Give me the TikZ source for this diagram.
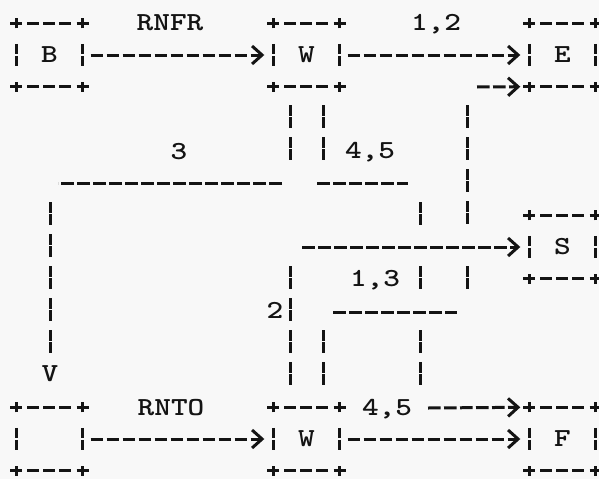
\documentclass[tikz,border=0pt]{standalone}
\usepackage{graphicx}
\usetikzlibrary{arrows.meta}
\newcommand\lab{\ttfamily\bfseries\fontsize{26}{26}\selectfont}
\newcommand\tx[1]{\scalebox{1.22}[1]{\lab #1}}
\definecolor{paper}{RGB}{248,248,248}
\definecolor{inkc}{RGB}{20,20,20}
\begin{document}
\begin{tikzpicture}[x=1pt,y=-1pt,
  ink/.style={draw=inkc,line width=3pt},
  hdash/.style={ink,dash pattern=on 12.7pt off 3.3pt},
  boxedge/.style={ink,dash pattern=on 12pt off 4pt},
  vbar/.style={ink,dash pattern=on 10.5pt off 1.5pt on 10.5pt off 9.5pt},
  arr/.style={hdash,-{Straight Barb[length=10pt,width=18pt]}},
  box/.style={minimum width=66pt,minimum height=63pt,inner sep=0pt,text=inkc},
  lbl/.style={inner sep=0pt,text depth=0pt,text=inkc},
]
\fill[paper] (0,0) rectangle (599,479);
\useasboundingbox (0,0) rectangle (599,479);

% boxes
\node[box] (B)  at (49.5,55)  {\tx{B}};
\node[box] (W1) at (306.5,55) {\tx{W}};
\node[box] (E)  at (562.5,55) {\tx{E}};
\node[box] (S)  at (562.5,247) {\tx{S}};
\node[box] (V)  at (49.5,439) {};
\node[box] (W2) at (306.5,439) {\tx{W}};
\node[box] (F)  at (562.5,439) {\tx{F}};

\foreach \n in {B,W1,E,S,V,W2,F}{
  \foreach \c in {north west,north east,south west,south east}{
    \draw[ink] ([xshift=-6pt]\n.\c) -- ([xshift=6pt]\n.\c)
               ([yshift=-5pt]\n.\c) -- ([yshift=5pt]\n.\c);
  }
  \draw[boxedge] ([xshift=11pt]\n.north west) -- ([xshift=-11pt]\n.north east);
  \draw[boxedge] ([xshift=11pt]\n.south west) -- ([xshift=-11pt]\n.south east);
  \draw[vbar] ([yshift=11.25pt]\n.west) -- ([yshift=-11.25pt]\n.west);
  \draw[vbar] ([yshift=11.25pt]\n.east) -- ([yshift=-11.25pt]\n.east);
}

% RNFR: B -> W
\draw[arr] ([xshift=8pt]B.east) -- ([xshift=-9pt]W1.west);
\node[lbl] (lrnfr) at (170,23) {\tx{RNFR}};
% 1,2: W -> E
\draw[arr] ([xshift=8pt]W1.east) -- ([xshift=-9pt]E.west);
\node[lbl] (l12) at (436,22) {\tx{1,2}};

% 3: W -> V
\coordinate (a3) at (290,105);
\coordinate (b3) at (282,183);
\coordinate (c3) at (58,183);
\coordinate (d3) at (50,202);
\draw[vbar] (a3) -- ++(0,55.5);
\draw[hdash] (b3) -- (c3);
\draw[vbar] (d3) -- ++(0,150.5);
\node[lbl] (vtip) at (50,374) {\tx{V}};
\node[lbl] (l3) at (179,151) {\tx{3}};

% 4,5: W -> F
\coordinate (a45) at (323,105);
\coordinate (b45) at (317,183);
\coordinate (c45) at (408,183);
\coordinate (e45) at (428,408);
\draw[vbar] (a45) -- ++(0,55.5);
\draw[hdash] (b45) -- (c45);
\draw[vbar] (420,202) -- ++(0,22.5) (420,266) -- ++(0,22.5) (420,330) -- ++(0,54.5);
\draw[arr] (e45) -- ([xshift=-9pt]F.north west);
\node[lbl] (l45a) at (370,150) {\tx{4,5}};
\node[lbl] (l45b) at (387,407) {\tx{4,5}};

% 1,3: W -> E
\coordinate (a13) at (323,330);
\coordinate (b13) at (333,312);
\coordinate (c13) at (457,312);
\coordinate (e13) at (477,87);
\draw[vbar] (a13) -- ++(0,54.5);
\draw[hdash] (b13) -- (c13);
\draw[vbar] (467,105) -- ++(0,118.5) (467,266) -- ++(0,22.5);
\draw[arr] (e13) -- ([xshift=-9pt]E.south west);
\node[lbl] (l13) at (375,278) {\tx{1,3}};

% 2: W -> S
\coordinate (a2) at (290,266);
\coordinate (e2) at (302,247);
\draw[vbar] (a2) -- ++(0,118.5);
\draw[arr] (e2) -- ([xshift=-9pt]S.west);
\node[lbl] (l2) at (275,310) {\tx{2}};

% RNTO: V -> W
\draw[arr] ([xshift=8pt]V.east) -- ([xshift=-9pt]W2.west);
\node[lbl] (lrnto) at (171,407) {\tx{RNTO}};
% W -> F
\draw[arr] ([xshift=8pt]W2.east) -- ([xshift=-9pt]F.west);
\end{tikzpicture}
\end{document}
